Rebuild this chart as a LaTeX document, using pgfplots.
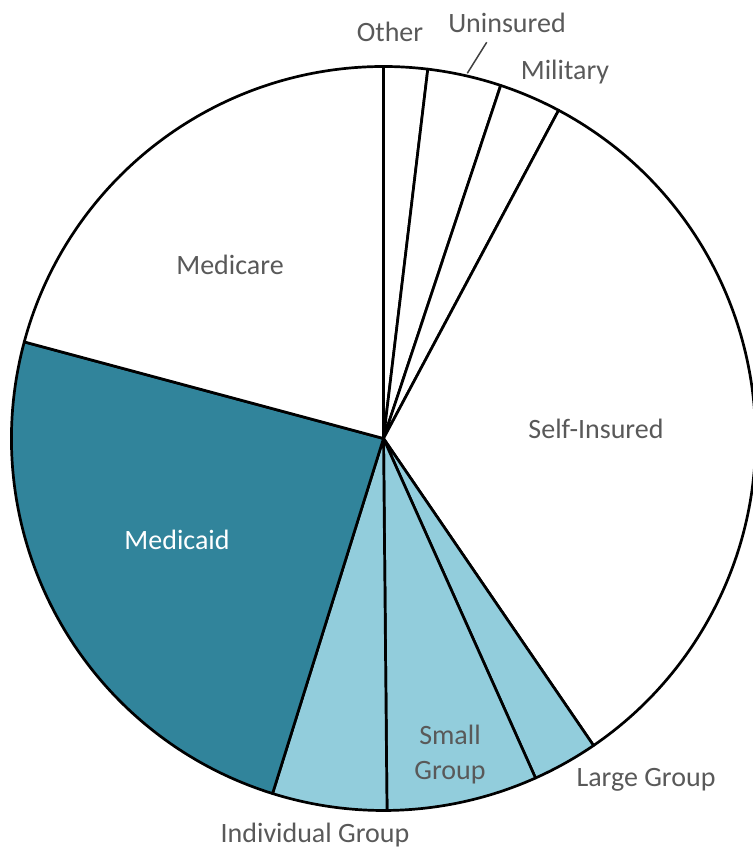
\documentclass[border=0pt]{standalone}
\usepackage{fontspec}
\setmainfont{Carlito}
\usepackage{pgfplots}
\usepackage{pgfplotstable}
\pgfplotsset{compat=1.18}
\definecolor{darkteal}{HTML}{31849B}
\definecolor{lightblue}{HTML}{92CDDC}
\definecolor{labelgray}{HTML}{595959}
\tikzset{lab/.style={font=\fontsize{28bp}{35bp}\selectfont, text=labelgray, inner sep=0pt}}

\pgfplotstableread[col sep=comma]{
label,value,fill
Other,1.9,white
Uninsured,3.2,white
Military,2.7,white
Self-Insured,32.65,white
Large Group,2.85,lightblue
Small Group,6.55,lightblue
Individual Group,4.97,lightblue
Medicaid,24.36,darkteal
Medicare,20.82,white
}\piedata

\begin{document}
\begin{tikzpicture}
\path[use as bounding box] (0,0) rectangle (753bp,849bp);
\begin{axis}[
  at={(0,0)}, anchor=south west,
  scale only axis, width=753bp, height=849bp,
  xmin=0, xmax=753, ymin=0, ymax=849,
  hide axis, clip=false,
]
\pgfplotsextra{%
  \def\cx{383.5}\def\cy{410.5}\def\rr{372}%
  \def\startangle{90}%
  \pgfplotsforeachungrouped \i in {0,...,8}{%
    \pgfplotstablegetelem{\i}{value}\of\piedata \let\v\pgfplotsretval
    \pgfplotstablegetelem{\i}{fill}\of\piedata \let\c\pgfplotsretval
    \pgfmathsetmacro\endangle{\startangle-3.6*\v}%
    \pgfmathsetmacro\px{\cx+\rr*cos(\startangle)}%
    \pgfmathsetmacro\py{\cy+\rr*sin(\startangle)}%
    \filldraw[fill=\c, draw=black, line width=2.7bp, line join=round]
      (axis cs:\cx,\cy) -- (axis cs:\px,\py)
      arc[start angle=\startangle, end angle=\endangle, radius=372bp] -- cycle;
    \let\startangle\endangle
  }%
}
\node[lab] at (axis cs:390,817) {Other};
\node[lab] at (axis cs:507,826) {Uninsured};
\node[lab] at (axis cs:565,777) {Military};
\draw[black!75, line width=1.5bp] (axis cs:486.7,806.7) -- (axis cs:467.3,775.7);
\node[lab] at (axis cs:230,584) {Medicare};
\node[lab] at (axis cs:596,420) {Self-Insured};
\node[lab, text=white] at (axis cs:177,309) {Medicaid};
\node[lab, align=center] at (axis cs:450,94.5) {Small\\Group};
\node[lab] at (axis cs:646,69) {Large Group};
\node[lab] at (axis cs:315,14) {Individual Group};
\end{axis}
\end{tikzpicture}
\end{document}
